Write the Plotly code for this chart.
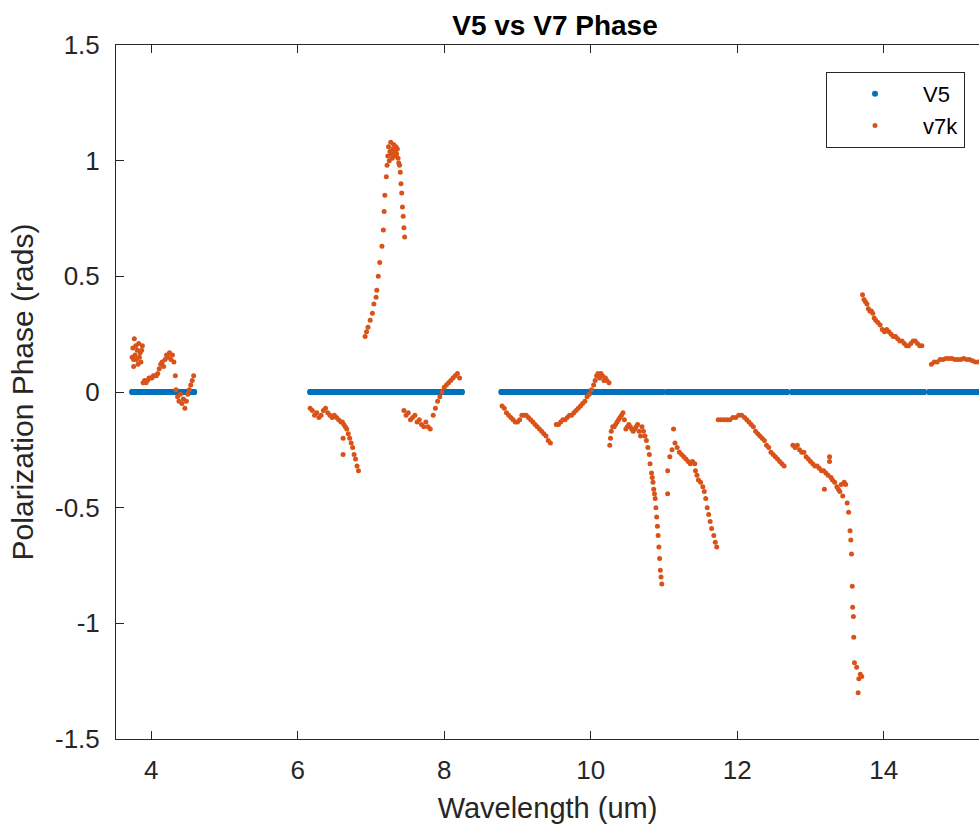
import numpy as np
import plotly.graph_objects as go

# ---- V5: phase along each measured wavelength band (um) ----
v5_band_start = [3.74, 6.17, 6.53, 6.91, 7.85, 8.78, 9.53, 11.04, 12.75, 14.62]
v5_band_end = [4.59, 6.51, 6.88, 7.81, 8.24, 9.48, 10.98, 12.68, 14.55, 15.50]
v5_step = 0.004
v5_phase = 0.0

# ---- v7k: phase read per band (wavelength um, phase rad) ----
b1_x = [3.74, 3.75, 3.76, 3.77, 3.78, 3.79, 3.80, 3.81, 3.82, 3.83, 3.84, 3.85, 3.86, 3.87, 3.88,
        3.89, 3.91, 3.93, 3.95, 3.97, 3.99, 4.01, 4.03, 4.05, 4.07, 4.09,
        4.11, 4.13, 4.15, 4.17, 4.19, 4.21, 4.23, 4.25, 4.27, 4.29, 4.31, 4.33,
        4.34, 4.36, 4.38, 4.40, 4.42, 4.44, 4.46, 4.48, 4.50, 4.52, 4.54, 4.56, 4.58, 3.76]
b1_y = [0.15, 0.19, 0.14, 0.23, 0.16, 0.20, 0.14, 0.18, 0.12, 0.21, 0.15, 0.17, 0.13, 0.18, 0.20,
        0.04, 0.05, 0.04, 0.05, 0.06, 0.06, 0.06, 0.07, 0.07, 0.07, 0.08,
        0.10, 0.12, 0.13, 0.11, 0.14, 0.16, 0.15, 0.17, 0.14, 0.16, 0.13, 0.07,
        0.01, -0.02, -0.04, -0.01, -0.05, -0.03, -0.07, -0.04, -0.01, 0.01, 0.03, 0.05, 0.07, 0.11]

b2_x = [6.17, 6.20, 6.23, 6.26, 6.29, 6.32, 6.35, 6.38, 6.41, 6.44, 6.47, 6.50, 6.53, 6.56, 6.59,
        6.61, 6.63, 6.65, 6.67, 6.69, 6.71, 6.73, 6.75, 6.77, 6.79, 6.81, 6.83, 6.62, 6.62]
b2_y = [-0.07, -0.08, -0.10, -0.09, -0.11, -0.10, -0.08, -0.07, -0.09, -0.10, -0.11, -0.10, -0.11, -0.12, -0.13,
        -0.13, -0.14, -0.15, -0.16, -0.18, -0.20, -0.22, -0.24, -0.27, -0.29, -0.32, -0.34, -0.20, -0.27]

b3_x = [6.92, 6.94, 6.96, 6.99, 7.02, 7.04, 7.07, 7.08, 7.10, 7.12, 7.15, 7.17, 7.18, 7.19, 7.21, 7.22,
        7.23, 7.24, 7.25, 7.26, 7.27, 7.28, 7.29, 7.30, 7.31, 7.32, 7.33, 7.34, 7.35, 7.36, 7.37, 7.38,
        7.39, 7.40, 7.41, 7.42, 7.43, 7.44, 7.45, 7.46]
b3_y = [0.24, 0.26, 0.28, 0.31, 0.34, 0.38, 0.41, 0.44, 0.50, 0.56, 0.63, 0.70, 0.78, 0.85, 0.93, 0.98,
        1.02, 1.06, 1.00, 1.04, 1.08, 1.03, 1.01, 1.05, 1.07, 1.02, 1.04, 1.06, 1.03, 1.05, 1.01, 0.99,
        0.98, 0.95, 0.90, 0.86, 0.80, 0.76, 0.71, 0.67]

b4_x = [7.45, 7.48, 7.51, 7.54, 7.57, 7.60, 7.63, 7.66, 7.69, 7.72, 7.75, 7.78, 7.81,
        7.85, 7.88, 7.91, 7.94, 7.97, 8.00, 8.03, 8.06, 8.09, 8.12, 8.15, 8.18, 8.21]
b4_y = [-0.08, -0.10, -0.09, -0.12, -0.11, -0.10, -0.13, -0.12, -0.14, -0.15, -0.13, -0.15, -0.16,
        -0.10, -0.07, -0.04, -0.02, 0.00, 0.02, 0.03, 0.04, 0.05, 0.06, 0.07, 0.08, 0.06]

b5_x = [8.79, 8.82, 8.85, 8.88, 8.91, 8.94, 8.97, 9.00, 9.03, 9.06, 9.09, 9.12, 9.15, 9.18, 9.21,
        9.24, 9.27, 9.30, 9.33, 9.36, 9.39, 9.42, 9.45]
b5_y = [-0.06, -0.07, -0.09, -0.10, -0.11, -0.12, -0.13, -0.13, -0.12, -0.10, -0.10, -0.10, -0.11, -0.12, -0.13,
        -0.14, -0.15, -0.16, -0.17, -0.18, -0.19, -0.21, -0.22]

b6_x = [9.53, 9.56, 9.59, 9.62, 9.65, 9.68, 9.71, 9.74, 9.77, 9.80, 9.83, 9.86, 9.89, 9.92, 9.95, 9.98,
        10.01, 10.04, 10.06, 10.08, 10.10, 10.12, 10.14, 10.16, 10.18, 10.20, 10.22, 10.25]
b6_y = [-0.14, -0.14, -0.13, -0.12, -0.12, -0.11, -0.10, -0.10, -0.09, -0.08, -0.07, -0.06, -0.05, -0.04, -0.02, -0.01,
        0.01, 0.03, 0.05, 0.07, 0.08, 0.06, 0.08, 0.07, 0.05, 0.06, 0.05, 0.04]

b7_x = [10.26, 10.27, 10.28, 10.30, 10.32, 10.34, 10.36, 10.38, 10.40, 10.42, 10.44, 10.46, 10.48, 10.50,
        10.52, 10.54, 10.56, 10.58, 10.60, 10.62, 10.64, 10.66, 10.68, 10.70, 10.72, 10.74, 10.76, 10.78,
        10.80, 10.81, 10.83, 10.84, 10.85, 10.86, 10.87, 10.88, 10.89, 10.90, 10.91, 10.92, 10.93, 10.94,
        10.95, 10.96, 10.97]
b7_y = [-0.23, -0.20, -0.17, -0.15, -0.15, -0.14, -0.13, -0.12, -0.11, -0.10, -0.09, -0.12, -0.16, -0.15,
        -0.14, -0.15, -0.16, -0.17, -0.16, -0.15, -0.14, -0.17, -0.19, -0.15, -0.17, -0.19, -0.21, -0.24,
        -0.27, -0.31, -0.35, -0.37, -0.39, -0.42, -0.44, -0.46, -0.50, -0.54, -0.58, -0.62, -0.67, -0.72,
        -0.77, -0.80, -0.83]

b8_x = [11.05, 11.05, 11.08, 11.11, 11.13, 11.15, 11.18, 11.21, 11.24, 11.27, 11.30, 11.33, 11.36, 11.39,
        11.42, 11.43, 11.45, 11.47, 11.50, 11.53, 11.55, 11.57, 11.59, 11.61, 11.63, 11.65, 11.68, 11.70, 11.72]
b8_y = [-0.44, -0.34, -0.28, -0.25, -0.16, -0.22, -0.24, -0.26, -0.27, -0.28, -0.29, -0.30, -0.31, -0.30,
        -0.31, -0.34, -0.36, -0.38, -0.39, -0.41, -0.43, -0.46, -0.50, -0.53, -0.56, -0.59, -0.62, -0.65, -0.67]

b9_x = [11.74, 11.78, 11.82, 11.86, 11.90, 11.94, 11.98, 12.02, 12.06, 12.10, 12.13, 12.16, 12.19, 12.22,
        12.25, 12.28, 12.31, 12.34, 12.37, 12.40, 12.43, 12.46, 12.49, 12.52, 12.55, 12.58, 12.61, 12.64]
b9_y = [-0.12, -0.12, -0.12, -0.12, -0.12, -0.11, -0.11, -0.10, -0.10, -0.11, -0.12, -0.13, -0.14, -0.15,
        -0.17, -0.18, -0.19, -0.20, -0.21, -0.23, -0.24, -0.26, -0.27, -0.28, -0.29, -0.30, -0.31, -0.32]

b10_x = [12.76, 12.79, 12.82, 12.85, 12.88, 12.91, 12.94, 12.97, 13.00, 13.03, 13.06, 13.09, 13.12, 13.15,
         13.18, 13.19, 13.21, 13.24, 13.26, 13.26, 13.28, 13.30, 13.33, 13.36, 13.38, 13.40, 13.42, 13.44,
         13.46, 13.48, 13.50, 13.52, 13.54, 13.55, 13.56, 13.57, 13.575, 13.585, 13.59, 13.60, 13.63, 13.65,
         13.66, 13.68, 13.70]
b10_y = [-0.23, -0.24, -0.23, -0.25, -0.26, -0.26, -0.28, -0.29, -0.30, -0.31, -0.32, -0.32, -0.33, -0.34,
         -0.34, -0.42, -0.35, -0.36, -0.28, -0.30, -0.37, -0.38, -0.39, -0.41, -0.42, -0.43, -0.40, -0.45,
         -0.39, -0.40, -0.48, -0.52, -0.60, -0.64, -0.70, -0.84, -0.93, -0.97, -1.06, -1.17, -1.19, -1.30,
         -1.24, -1.22, -1.23]

b11_x = [13.71, 13.73, 13.75, 13.77, 13.79, 13.81, 13.83, 13.85, 13.87, 13.89, 13.92, 13.95, 13.98, 14.01,
         14.04, 14.07, 14.10, 14.13, 14.16, 14.19, 14.22, 14.25, 14.28, 14.31, 14.34, 14.37, 14.40, 14.43,
         14.46, 14.49, 14.52]
b11_y = [0.42, 0.40, 0.39, 0.38, 0.36, 0.35, 0.35, 0.34, 0.32, 0.31, 0.30, 0.29, 0.27, 0.26,
         0.27, 0.26, 0.25, 0.24, 0.24, 0.23, 0.22, 0.22, 0.21, 0.20, 0.20, 0.21, 0.22, 0.22,
         0.21, 0.20, 0.20]

b12_x = [14.65, 14.69, 14.73, 14.77, 14.81, 14.85, 14.89, 14.93, 14.97, 15.01, 15.05, 15.09, 15.13,
         15.17, 15.21, 15.25, 15.29]
b12_y = [0.12, 0.13, 0.13, 0.14, 0.14, 0.145, 0.145, 0.145, 0.14, 0.14, 0.14, 0.145, 0.14,
         0.14, 0.135, 0.13, 0.13]

x_ticks = [4, 6, 8, 10, 12, 14]
y_ticks = [-1.5, -1, -0.5, 0, 0.5, 1, 1.5]
y_tick_text = ["-1.5", "-1", "-0.5", "0", "0.5", "1", "1.5"]

# ---- assemble series ----
v5_x = np.concatenate([np.arange(s, e + v5_step / 2, v5_step)
                       for s, e in zip(v5_band_start, v5_band_end)])
v5_y = np.full(v5_x.shape, v5_phase)

v7k_x = b1_x + b2_x + b3_x + b4_x + b5_x + b6_x + b7_x + b8_x + b9_x + b10_x + b11_x + b12_x
v7k_y = b1_y + b2_y + b3_y + b4_y + b5_y + b6_y + b7_y + b8_y + b9_y + b10_y + b11_y + b12_y

BLUE = "#0072BD"
ORANGE = "#D95319"
AXIS = "#262626"
FONT = "Liberation Sans, Arial, Helvetica, sans-serif"

fig = go.Figure()
fig.add_trace(go.Scatter(x=v5_x, y=v5_y, mode="markers", name="V5",
                         marker=dict(color=BLUE, size=6, line=dict(width=0))))
fig.add_trace(go.Scatter(x=v7k_x, y=v7k_y, mode="markers", name="v7k",
                         marker=dict(color=ORANGE, size=5, line=dict(width=0))))

fig.update_layout(
    width=979, height=824, autosize=False,
    margin=dict(l=116, r=0, t=45, b=85),
    paper_bgcolor="white", plot_bgcolor="white",
    font=dict(family=FONT, color=AXIS),
    title=dict(text="<b>V5 vs V7 Phase</b>", font=dict(size=28, color="black"),
               xref="container", x=555 / 979, xanchor="center",
               yref="container", y=1 - 25 / 824, yanchor="middle"),
    legend=dict(x=(965 - 116) / 863, xanchor="right", y=(739 - 72) / 694, yanchor="top",
                bgcolor="white", bordercolor=AXIS, borderwidth=1,
                font=dict(size=22, color="black"), itemwidth=86),
    showlegend=True,
)
fig.update_xaxes(range=[3.52, 15.30], tickvals=x_ticks, ticks="inside", ticklen=8,
                 tickcolor=AXIS, showline=True, linecolor=AXIS, linewidth=1, mirror="ticks",
                 showgrid=False, zeroline=False, tickfont=dict(size=26, color=AXIS),
                 ticklabelstandoff=8,
                 title=dict(text="Wavelength (um)", font=dict(size=29, color=AXIS), standoff=14))
fig.update_yaxes(range=[-1.5, 1.5], tickvals=y_ticks, ticktext=y_tick_text, ticks="inside", ticklen=8,
                 tickcolor=AXIS, showline=True, linecolor=AXIS, linewidth=1, mirror=False,
                 showgrid=False, zeroline=False, tickfont=dict(size=26, color=AXIS),
                 ticklabelstandoff=10,
                 title=dict(text="Polarization Phase (rads)", font=dict(size=30, color=AXIS), standoff=12))

fig.write_html("out.html")
